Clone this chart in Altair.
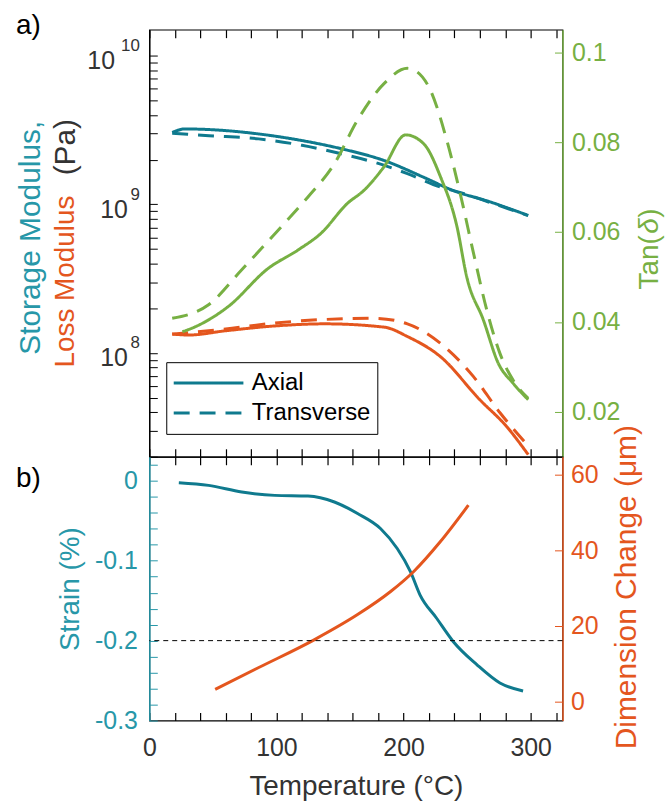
import altair as alt
import pandas as pd

# ---------------- data ----------------
# a) storage / loss modulus (Pa)
T_stor_ax = [18, 28, 50, 86, 120, 151, 185, 216, 239, 268, 298]
E_stor_ax = [3.05e9, 3.22e9, 3.18e9, 2.98e9, 2.69e9, 2.37e9, 1.97e9, 1.52e9, 1.24e9, 1.04e9, 8.43e8]
T_stor_tr = [18, 47, 86, 120, 151, 185, 203, 229, 245, 268, 298]
E_stor_tr = [3.01e9, 2.90e9, 2.76e9, 2.50e9, 2.19e9, 1.83e9, 1.61e9, 1.31e9, 1.20e9, 1.03e9, 8.4e8]
T_loss_ax = [18, 31, 60, 99, 138, 185, 203, 229, 260, 281, 298]
E_loss_ax = [1.34e8, 1.32e8, 1.41e8, 1.52e8, 1.57e8, 1.49e8, 1.29e8, 9.44e7, 4.84e7, 3.2e7, 2.07e7]
T_loss_tr = [18, 60, 99, 138, 177, 203, 229, 255, 276, 297]
E_loss_tr = [1.34e8, 1.45e8, 1.59e8, 1.68e8, 1.71e8, 1.57e8, 1.16e8, 6.93e7, 3.94e7, 2.42e7]

# a) tan(delta)
T_tan_ax = [26, 36, 62, 93.5, 117, 135, 156, 169, 184.6, 201.6, 215.9, 229, 242, 249.7, 262.8, 274.5, 286, 298]
tan_ax = [0.0378, 0.0389, 0.0434, 0.0519, 0.056, 0.0597, 0.0664, 0.0693, 0.0745, 0.0816, 0.0796,
          0.0723, 0.0612, 0.05, 0.0404, 0.0308, 0.0264, 0.0227]
T_tan_tr = [18, 46.6, 72.7, 103.9, 124.8, 145.6, 163.8, 184.6, 203, 210.7, 221, 234, 244.5, 255,
            265.4, 275.8, 286, 298]
tan_tr = [0.0408, 0.0438, 0.0516, 0.0612, 0.0678, 0.0752, 0.0849, 0.093, 0.0964, 0.0956, 0.0916,
          0.0804, 0.0686, 0.0553, 0.0427, 0.033, 0.0271, 0.023]

# b) strain (%) and dimension change (um)
T_strain = [23.2, 46.6, 72.7, 98.7, 124.8, 145.6, 163.8, 182, 195, 205.5, 213, 226, 239, 257.6, 275.8, 294]
strain = [-0.0025, -0.0058, -0.0141, -0.0183, -0.0191, -0.0266, -0.041, -0.06, -0.0847, -0.114,
          -0.143, -0.172, -0.201, -0.23, -0.253, -0.263]
T_dim = [51.8, 85.7, 130, 163.8, 189.8, 208, 229, 251]
dim = [3.24, 8.95, 16.4, 23.0, 29.1, 34.4, 42.3, 51.9]
strain_ref = [-0.2]

# ticks
x_ticks = list(range(0, 321, 20))
log_ticks = [m * 10 ** e for e in (7, 8, 9) for m in range(1, 10) if m * 10 ** e >= 2e7] + [1e10]
log_major_2digit = [1e10]
log_major_1digit = [1e8, 1e9]
log_major = [1e8, 1e9, 1e10]
tan_ticks = [0.02, 0.04, 0.06, 0.08, 0.1]
strain_ticks = [round(-0.30 + 0.02 * i, 2) for i in range(17)]
dim_ticks = [0, 20, 40, 60]

# ---------------- styles ----------------
FONT = "Liberation Sans"
TEAL = "#0F7A8E"
TEAL_TXT = "#2797A8"
ORANGE = "#E4561E"
GREEN = "#77B043"
DARK = "#333333"
TICK = alt.ExprRef(expr="-8")
W, H1, H2 = 415, 429, 265
XDOM = alt.Scale(domain=[0, 325], nice=False, zero=False)
LOGSCALE = alt.Scale(type="log", domain=[2e7, 1.5e10], nice=False)

mod_df = pd.concat([
    pd.DataFrame({"T": T_stor_ax, "v": E_stor_ax, "m": "Storage", "o": "Axial"}),
    pd.DataFrame({"T": T_stor_tr, "v": E_stor_tr, "m": "Storage", "o": "Transverse"}),
    pd.DataFrame({"T": T_loss_ax, "v": E_loss_ax, "m": "Loss", "o": "Axial"}),
    pd.DataFrame({"T": T_loss_tr, "v": E_loss_tr, "m": "Loss", "o": "Transverse"}),
])
tan_df = pd.concat([
    pd.DataFrame({"T": T_tan_ax, "v": tan_ax, "o": "Axial"}),
    pd.DataFrame({"T": T_tan_tr, "v": tan_tr, "o": "Transverse"}),
])
strain_df = pd.DataFrame({"T": T_strain, "v": strain})
dim_df = pd.DataFrame({"T": T_dim, "v": dim})
ref_df = pd.DataFrame({"v": strain_ref})
one = pd.DataFrame({"k": [0]})

dash_scale = alt.Scale(domain=["Axial", "Transverse"], range=[[1, 0], [16, 10]])


def xaxis(orient, labels=False, title=None):
    kw = dict(orient=orient, values=x_ticks, tickSize=TICK, domain=False, tickColor="black",
              tickWidth=1.2, labelOverlap=False, labelFlush=False, grid=False, title=title)
    if labels:
        kw.update(labels=True, labelExpr="datum.value % 100 == 0 ? format(datum.value, 'd') : ''",
                  labelFontSize=25, labelColor=DARK, labelPadding=23, labelFont=FONT)
    else:
        kw.update(labels=False)
    return alt.Axis(**kw)


def txt(text, x, y, color="black", size=28, angle=0, align="center", baseline="middle", style="normal"):
    return alt.Chart(one).mark_text(text=text, font=FONT, fontSize=size, color=color, angle=angle,
                                    align=align, baseline=baseline, fontStyle=style).encode(
        x=alt.value(x), y=alt.value(y))


def log_label_layer(values, expr, size, pad, offset):
    """Invisible layer on the same log scale that only carries a label axis."""
    return alt.Chart(mod_df).mark_line(opacity=0).encode(
        x=alt.X("T:Q", scale=XDOM, axis=None),
        y=alt.Y("v:Q", scale=LOGSCALE,
                axis=alt.Axis(orient="left", values=values, ticks=False, domain=False,
                              labelPadding=pad, labelFontSize=size, labelColor=DARK, labelFont=FONT,
                              labelOffset=offset, labelOverlap=False, grid=False, title=None,
                              labelExpr=expr)),
    )


# ---------------- panel a ----------------
mod_line = alt.Chart(mod_df).mark_line(strokeWidth=3, interpolate="monotone").encode(
    x=alt.X("T:Q", scale=XDOM, axis=xaxis("bottom")),
    y=alt.Y("v:Q", scale=LOGSCALE,
            axis=alt.Axis(orient="left", values=log_ticks, tickSize=TICK, tickColor="black",
                          domainColor="black", domainWidth=1.2, labels=False, grid=False, title=None)),
    color=alt.Color("m:N", scale=alt.Scale(domain=["Storage", "Loss"], range=[TEAL, ORANGE]), legend=None),
    strokeDash=alt.StrokeDash("o:N", scale=dash_scale, legend=alt.Legend(
        orient="none", legendX=17, legendY=334, title=None, symbolType="stroke", symbolSize=4900,
        symbolStrokeWidth=3, symbolStrokeColor=TEAL, clipHeight=30, rowPadding=0, labelOffset=7,
        labelFontSize=24, labelFont=FONT, labelColor="black", padding=6, strokeColor="black",
        fillColor="white")),
)

base10 = log_label_layer(log_major_2digit, "'10'", 25, 35, 5)
base1 = log_label_layer(log_major_1digit, "'10'", 25, 22, 5)
exps = log_label_layer(log_major, "format(round(log(datum.value) / LN10), 'd')", 17, 10, -10)

tan_line = alt.Chart(tan_df).mark_line(strokeWidth=3, interpolate="monotone", color=GREEN).encode(
    x=alt.X("T:Q", scale=XDOM, axis=xaxis("top")),
    y=alt.Y("v:Q", scale=alt.Scale(domain=[0.01, 0.105], nice=False, zero=False),
            axis=alt.Axis(orient="right", values=tan_ticks, tickSize=TICK, tickColor=GREEN,
                          domainColor=GREEN, domainWidth=1.5, labelPadding=17, labelFontSize=25,
                          labelColor=GREEN, labelFont=FONT, labelOverlap=False, grid=False, title=None,
                          labelExpr="format(datum.value, '.2~f')")),
    strokeDash=alt.StrokeDash("o:N", scale=dash_scale, legend=None),
)

panel_a = alt.layer(
    mod_line, tan_line, base10, base1, exps,
    txt("a)", -134, 4, align="left", baseline="alphabetic"),
    txt("Storage Modulus,", -119, 209, color=TEAL_TXT, angle=270, size=30),
    txt("Loss Modulus", -84, 253, color=ORANGE, angle=270),
    txt("(Pa)", -84, 118, color=DARK, angle=270, size=30),
    txt("Tan(", 503, 261, color=GREEN, angle=270, align="left"),
    txt("\u03b4", 503, 205, color=GREEN, angle=270, align="left", style="italic"),
    txt(")", 503, 189, color=GREEN, angle=270, align="left"),
).resolve_scale(y="independent").resolve_axis(x="independent").resolve_legend(
    strokeDash="independent").properties(width=W, height=H1)

# ---------------- panel b ----------------
strain_line = alt.Chart(strain_df).mark_line(strokeWidth=3, interpolate="monotone", color=TEAL).encode(
    x=alt.X("T:Q", scale=XDOM, axis=xaxis("bottom", labels=True)),
    y=alt.Y("v:Q", scale=alt.Scale(domain=[-0.3, 0.03], nice=False, zero=False),
            axis=alt.Axis(orient="left", values=strain_ticks, tickSize=TICK, tickColor=TEAL_TXT,
                          domainColor=TEAL_TXT, domainWidth=1.5, labelPadding=20, labelFontSize=25,
                          labelColor=TEAL_TXT, labelFont=FONT, labelOverlap=False, grid=False, title=None,
                          labelExpr="abs(datum.value*10 - round(datum.value*10)) < 1e-6 ? (abs(datum.value) < 1e-9 ? '0' : '-' + format(abs(datum.value), '.1f')) : ''")),
)

dim_line = alt.Chart(dim_df).mark_line(strokeWidth=3, interpolate="monotone", color=ORANGE).encode(
    x=alt.X("T:Q", scale=XDOM, axis=xaxis("top")),
    y=alt.Y("v:Q", scale=alt.Scale(domain=[-5, 64.7], nice=False, zero=False),
            axis=alt.Axis(orient="right", values=dim_ticks, tickSize=TICK, tickColor=ORANGE,
                          domainColor=ORANGE, domainWidth=1.5, labelPadding=16, labelFontSize=25,
                          labelColor=ORANGE, labelFont=FONT, labelOverlap=False, grid=False, title=None)),
)

ref_rule = alt.Chart(ref_df).mark_rule(color="black", strokeWidth=1, strokeDash=[5, 4]).encode(
    y=alt.Y("v:Q", scale=alt.Scale(domain=[-0.3, 0.03], nice=False, zero=False), axis=None),
)

panel_b = alt.layer(
    strain_line, dim_line, ref_rule,
    txt("b)", -134, 30, align="left", baseline="alphabetic"),
    txt("Strain (%)", -79, 133, color=TEAL_TXT, angle=270),
    txt("Dimension Change (\u03bcm)", 480, 131, color=ORANGE, angle=270, size=30),
    txt("Temperature (\u00b0C)", 208, 340, color=DARK, baseline="alphabetic"),
).resolve_scale(y="independent").resolve_axis(x="independent").properties(width=W, height=H2)

chart = alt.vconcat(panel_a, panel_b, spacing=0, bounds="flush").properties(
    padding={"left": 15, "top": 9, "right": 5, "bottom": 5},
    background="white",
).configure_view(stroke="black", strokeWidth=1.2).configure_axis(grid=False)

chart.save("out.html", embed_options={"renderer": "svg", "actions": False})
